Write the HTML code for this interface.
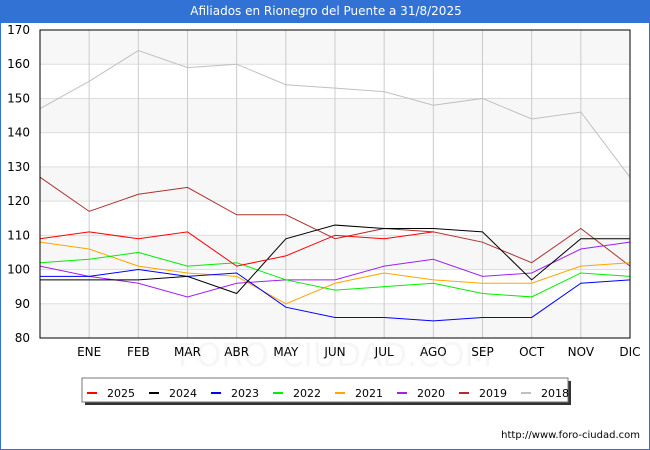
<!DOCTYPE html>
<html><head><meta charset="utf-8"><style>
body{margin:0;background:#fff;font-family:"DejaVu Sans","Liberation Sans",sans-serif}
#wrap{position:relative;width:650px;height:450px;overflow:hidden;box-sizing:border-box;border:1px solid #3272d4;border-top:none}
#title{position:absolute;left:0;top:0;width:650px;height:23px;background:#3272d4;color:#fff;font-size:12px;text-align:center;line-height:23px}
</style></head><body>
<div id="wrap">
<div id="title">Afiliados en Rionegro del Puente a 31/8/2025</div>
<svg id="svg" width="650" height="450" style="position:absolute;left:-1px;top:0"></svg>
</div>
<script>
const months=["","ENE","FEB","MAR","ABR","MAY","JUN","JUL","AGO","SEP","OCT","NOV","DIC"];
const yTicks=[80,90,100,110,120,130,140,150,160,170];
const years=["2025","2024","2023","2022","2021","2020","2019","2018"];
const colors=["#ff0000","#000000","#0000ff","#00ee00","#ffa500","#a020f0","#b03030","#c0c0c0"];
const s2025=[109,111,109,111,101,104,110,109,111];
const s2024=[97,97,97,98,93,109,113,112,112,111,97,109,109];
const s2023=[98,98,100,98,99,89,86,86,85,86,86,96,97];
const s2022=[102,103,105,101,102,97,94,95,96,93,92,99,98];
const s2021=[108,106,101,99,98,90,96,99,97,96,96,101,102];
const s2020=[101,98,96,92,96,97,97,101,103,98,99,106,108];
const s2019=[127,117,122,124,116,116,109,112,111,108,102,112,101];
const s2018=[147,155,164,159,160,154,153,152,148,150,144,146,127];
const series=[s2025,s2024,s2023,s2022,s2021,s2020,s2019,s2018];
const X0=40,X1=630,Y0=30,Y1=338,ymin=80,ymax=170;
const xs=i=>X0+i*(X1-X0)/12;
const ys=v=>Y1-(v-ymin)*(Y1-Y0)/(ymax-ymin);
const svg=document.getElementById('svg');const NS="http://www.w3.org/2000/svg";
function mk(t,a,p){const e=document.createElementNS(NS,t);for(const k in a)e.setAttribute(k,a[k]);(p||svg).appendChild(e);return e;}
for(let i=0;i<yTicks.length-1;i++){
 if(i%2==0){const r=mk('rect',{x:X0,y:ys(yTicks[i+1]),width:X1-X0,height:ys(yTicks[i])-ys(yTicks[i+1]),fill:'#f7f7f7'});
 
 }
}
const wm=mk('text',{x:335,y:366,'text-anchor':'middle','font-size':32,fill:'#f6f6f6'});wm.textContent='FORO-CIUDAD.COM';


yTicks.forEach(v=>{
 const l=mk('line',{x1:X0,x2:X1,y1:ys(v),y2:ys(v),stroke:'#dddddd','stroke-width':1});
 
 
 const t=mk('text',{x:X0-10,y:ys(v)+4,'text-anchor':'end','font-size':12,fill:'#000'});t.textContent=v;
 
 
});
months.forEach((m,i)=>{
 const l=mk('line',{x1:xs(i),x2:xs(i),y1:Y0,y2:Y1,stroke:'#cccccc','stroke-width':1});
 
 
 if(m){const t=mk('text',{x:xs(i),y:Y1+18,'text-anchor':'middle','font-size':12,fill:'#000'});t.textContent=m;
 
 }
});
for(let k=series.length-1;k>=0;k--){
 const pts=series[k].map((v,i)=>xs(i)+','+ys(v)).join(' ');
 const p=mk('polyline',{points:pts,fill:'none',stroke:colors[k],'stroke-width':1});
 
 
}
const fr=mk('rect',{x:X0,y:Y0,width:X1-X0,height:Y1-Y0,fill:'none',stroke:'#000','stroke-width':1});


const lg=mk('g',{});


mk('rect',{x:85,y:381,width:486,height:24,fill:'#333'},lg);
mk('rect',{x:82,y:378,width:486,height:24,fill:'#fff',stroke:'#777','stroke-width':1},lg);
years.forEach((y,i)=>{
 const g=mk('g',{},lg);
 
 
 mk('rect',{x:87+i*62,y:392,width:10,height:2,fill:colors[i]},g);
 const t=mk('text',{x:107+i*62,y:397,'font-size':11,fill:'#000'},g);t.textContent=y;
});
const u=mk('text',{x:640,y:438,'text-anchor':'end','font-size':10,fill:'#000'});u.textContent='http://www.foro-ciudad.com';


</script>
</body></html>
